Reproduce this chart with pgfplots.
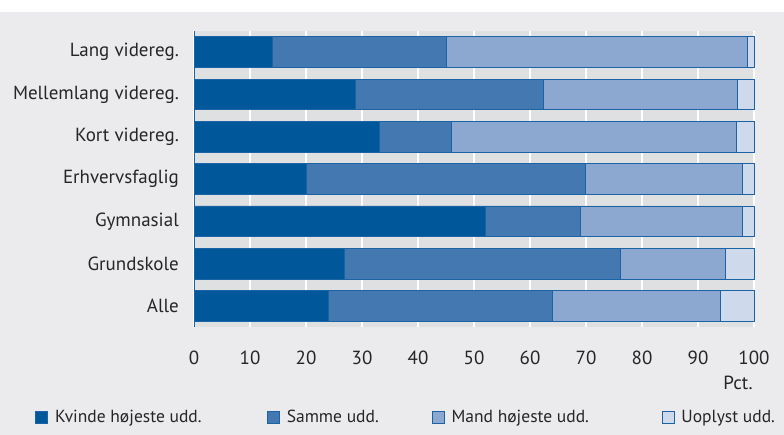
\documentclass[border=0pt]{standalone}
\usepackage{fontspec}
\setmainfont{PT Sans}
\usepackage{pgfplots}
\pgfplotsset{compat=1.18}
\definecolor{kv}{HTML}{00579A}
\definecolor{sa}{HTML}{4478B0}
\definecolor{ma}{HTML}{8CA8D0}
\definecolor{uo}{HTML}{CED9EC}
\definecolor{edge}{HTML}{1A63A5}
\definecolor{plotbg}{HTML}{DFE0E2}
\definecolor{outbg}{HTML}{EBEBEE}
\newcommand{\fsz}{\fontsize{19bp}{21bp}\selectfont}
\newcommand{\lfsz}{\fontsize{17.5bp}{20bp}\selectfont}
\begin{document}
\begin{tikzpicture}
\fill[white] (0,0) rectangle (784bp,-435bp);
\fill[outbg] (0,-12bp) rectangle (784bp,-435bp);
\begin{axis}[
  at={(194bp,-327bp)}, anchor=south west,
  scale only axis, width=560bp, height=296bp,
  xbar stacked, bar width=30.7bp,
  xmin=0, xmax=100, ymin=-0.5, ymax=6.5,
  xtick={0,10,...,100}, ytick={0,...,6},
  yticklabels={Alle,Grundskole,Gymnasial,Erhvervsfaglig,Kort videreg.,Mellemlang videreg.,Lang videreg.},
  /pgf/number format/assume math mode=true,
  tick label style={font=\fsz, text=black!85},
  xticklabel style={anchor=center, yshift=-31bp},
  yticklabel style={inner sep=0pt, anchor=east, xshift=-15bp},
  major tick length=0pt,
  axis background/.style={fill=plotbg},
  xmajorgrids, major grid style={white, line width=1.6bp},
  axis x line*=bottom, axis y line*=left,
  x axis line style={draw=none},
  y axis line style={draw=edge, line width=1bp, -},
  legend columns=4,
  legend style={draw=none, fill=none, inner sep=0pt, column sep=0pt,
    at={(-0.2839,-0.304)}, anchor=west, font=\lfsz, text=black!85,
    nodes={inner sep=0pt}},
  legend image code/.code={\draw[#1, draw=edge, line width=0.8bp] (0bp,-6bp) rectangle (12bp,6bp); \path (19bp,0bp);},
  clip=false,
]
\addplot[fill=kv, draw=edge, line width=0.8bp] coordinates {(24.0,0) (26.8,1) (52.1,2) (20.1,3) (33.1,4) (28.8,5) (14.0,6)};
\addplot[fill=sa, draw=edge, line width=0.8bp] coordinates {(40.0,0) (49.4,1) (16.9,2) (49.8,3) (12.9,4) (33.6,5) (31.0,6)};
\addplot[fill=ma, draw=edge, line width=0.8bp] coordinates {(30.0,0) (18.7,1) (28.9,2) (28.0,3) (50.9,4) (34.6,5) (53.8,6)};
\addplot[fill=uo, draw=edge, line width=0.8bp] coordinates {(6.0,0) (5.1,1) (2.1,2) (2.1,3) (3.1,4) (3.0,5) (1.2,6)};
\legend{\makebox[212bp][l]{Kvinde højeste udd.},\makebox[145bp][l]{Samme udd.},\makebox[210bp][l]{Mand højeste udd.},Uoplyst udd.}
\node[anchor=east, font=\fsz, text=black!85, inner sep=0pt] at (rel axis cs:0.998,-0.189) {Pct.};
\end{axis}
\pgfresetboundingbox
\useasboundingbox (0,0) rectangle (784bp,-435bp);
\end{tikzpicture}
\end{document}
